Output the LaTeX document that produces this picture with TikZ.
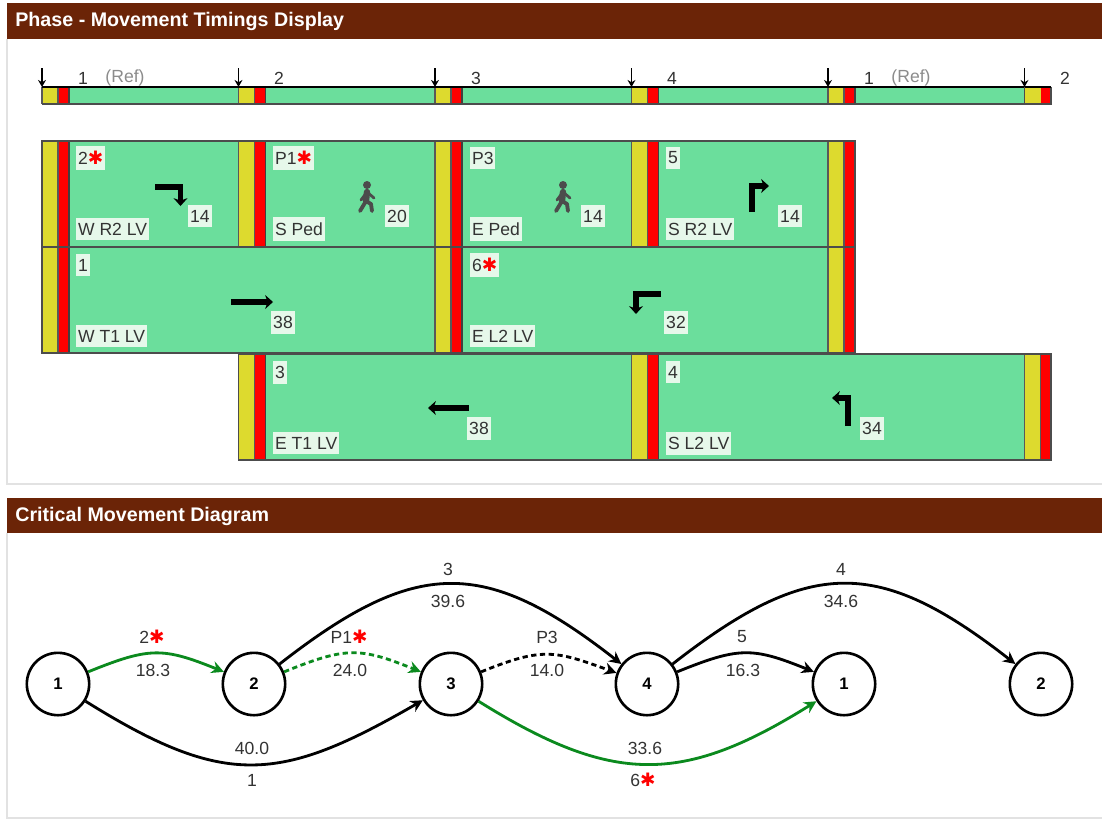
\documentclass[tikz,border=0pt]{standalone}
\usepackage{fontspec}
\usetikzlibrary{arrows.meta}
\setmainfont{Liberation Sans}
\newfontfamily\symfont{DejaVu Sans}
\definecolor{hdbrown}{HTML}{6B2407}
\definecolor{mvgreen}{HTML}{6BDE9C}
\definecolor{mvyellow}{HTML}{DDDA2E}
\definecolor{lblfill}{HTML}{E6F8EA}
\definecolor{crit}{HTML}{0B8A1E}
\definecolor{panelline}{HTML}{E2E2E2}
\newcommand{\rstar}{{\symfont\color{red}\fontsize{10.5}{10}\selectfont ✱}}
% one stretch of a bar: from x #1 to x #2, y #3 to y #4
\newcommand{\phaseseg}[4]{
\fill[mvgreen](#1,#3)rectangle(#2,#4);
\fill[mvyellow](#1,#3)rectangle(#1+16,#4);
\fill[red](#1+16,#3)rectangle(#1+27,#4);
\draw[black!65,line width=.6pt](#1+16,#3)--(#1+16,#4);
\draw[black!75,line width=.7pt](#1+27,#3)--(#1+27,#4);
\draw[black!65,line width=.6pt](#1,#3)--(#1,#4);
}
\begin{document}
\begin{tikzpicture}[>=stealth,x=.02cm,y=-.02cm,
txt/.style={inner sep=0pt,font=\fontsize{10}{11}\selectfont},
lbl/.style={txt,fill=lblfill,inner xsep=1pt,inner ysep=3pt,text=black!80},
lab/.style={txt,text=black!80},
hd/.style={inner sep=0pt,anchor=west,text=white,font=\fontsize{11.2}{13}\selectfont\bfseries},
stn/.style={draw,circle,line width=1.5pt,minimum size=35.5pt,inner sep=0pt,font=\fontsize{9.5}{11}\selectfont\bfseries},
mv/.style={-{Stealth[length=7pt,width=7pt]},line width=1.6pt},
tick/.style={-{Stealth[length=4pt,width=4.5pt]},line width=.7pt},
turn/.style={-{Stealth[length=4.5pt,width=8pt]},line width=3pt,line join=miter},
ped/.style={black!70,line width=2.2pt,line cap=round,line join=round}]
\useasboundingbox(0,0)rectangle(1102,819);
\fill[white](0,0)rectangle(1102,819);

% panels
\draw[panelline,line width=1pt](1102,484)--(7,484)--(7,39);
\draw[panelline,line width=1pt](1102,818)--(7,818)--(7,533);
\fill[hdbrown](7,3)rectangle(1102,39);
\fill[hdbrown](7,498)rectangle(1102,533);
\node[hd](hdA) at (15,21){Phase - Movement Timings Display};
\node[hd](hdB) at (15,516){Critical Movement Diagram};

% top bar
\foreach \x/\y in {42/238.5,238.5/435,435/631.5,631.5/828,828/1024.5}{\phaseseg{\x}{\y}{87}{104}}
\fill[mvyellow](1024.5,87)rectangle(1040.5,104);
\fill[red](1040.5,87)rectangle(1051,104);
\draw[black!70,line width=.8pt](42,104)--(1051,104)--(1051,87);
\draw[line width=.7pt](42,87)--(1051,87);
\draw[black!70,line width=.6pt](1024.5,87)--(1024.5,104);
\foreach \x [count=\i] in {42,238.5,435,631.5,828,1024.5}{
\coordinate(s\i) at (\x,68);
\coordinate(e\i) at (\x,87);
\draw[tick](s\i)--(e\i);
}
\node[lab](ph1) at (83,78){1};
\node[lab,text=black!45](ref1) at (125,78){(Ref)};
\node[lab](ph2) at (279,78){2};
\node[lab](ph3) at (476,78){3};
\node[lab](ph4) at (672,78){4};
\node[lab](ph5) at (869,78){1};
\node[lab,text=black!45](ref2) at (911,78){(Ref)};
\node[lab](ph6) at (1065,78){2};

% rows
\foreach \x/\y in {42/238.5,238.5/435,435/631.5,631.5/828,828/855}{\phaseseg{\x}{\y}{141}{246.5}}
\foreach \x/\y in {42/435,435/828,828/855}{\phaseseg{\x}{\y}{247.5}{353}}
\foreach \x/\y in {238.5/631.5,631.5/1024.5,1024.5/1051}{\phaseseg{\x}{\y}{354}{460}}
\draw[black!70,line width=1pt](42,141)rectangle(855,246.5);
\draw[black!70,line width=1pt](42,247.5)rectangle(855,353);
\draw[black!70,line width=1pt](238.5,354)rectangle(1051,460);

% row 1
\node[lbl,anchor=west](m2) at (76,158){2\rstar};
\node[lbl,anchor=west](m2b) at (76,229){W R2 LV};
\node[lbl](m2v) at (200,216){14};
\node[lbl,anchor=west](mP1) at (273,158){P1\rstar};
\node[lbl,anchor=west](mP1b) at (273,229){S Ped};
\node[lbl](mP1v) at (397,216){20};
\node[lbl,anchor=west](mP3) at (470,158){P3};
\node[lbl,anchor=west](mP3b) at (470,229){E Ped};
\node[lbl](mP3v) at (593,216){14};
\node[lbl,anchor=west](m5) at (666,158){5};
\node[lbl,anchor=west](m5b) at (666,229){S R2 LV};
\node[lbl](m5v) at (790,216){14};
% row 2
\node[lbl,anchor=west](m1) at (76,265){1};
\node[lbl,anchor=west](m1b) at (76,336){W T1 LV};
\node[lbl](m1v) at (283,322){38};
\node[lbl,anchor=west](m6) at (470,265){6\rstar};
\node[lbl,anchor=west](m6b) at (470,336){E L2 LV};
\node[lbl](m6v) at (676,322){32};
% row 3
\node[lbl,anchor=west](m3) at (273,372){3};
\node[lbl,anchor=west](m3b) at (273,443){E T1 LV};
\node[lbl](m3v) at (479,428){38};
\node[lbl,anchor=west](m4) at (666,372){4};
\node[lbl,anchor=west](m4b) at (666,443){S L2 LV};
\node[lbl](m4v) at (872,428){34};

% turn arrows
\draw[turn](155,187)-|(180.5,206);
\draw[turn](752,212)|-(769,186);
\draw[turn](231,302)--(273,302);
\draw[turn](661,294)-|(636,314);
\draw[turn](469,408)--(428,408);
\draw[turn](848,426)|-(832,398);

% walkers
\foreach \x in {367,563}{
\fill[black!70](\x,185)circle(4);
\draw[ped,line width=3.6pt](\x,192)--(\x-1,201);
\draw[ped,line width=1.6pt](\x,192)--(\x-6,200);
\draw[ped,line width=1.6pt](\x,192)--(\x+7,198);
\draw[ped](\x-1,201)--(\x-7,211);
\draw[ped](\x-1,201)--(\x+4,204)--(\x+5,211);
}

% stations
\node[stn](n1) at (58,684){1};
\node[stn](n2) at (254,684){2};
\node[stn](n3) at (451,684){3};
\node[stn](n4) at (647,684){4};
\node[stn](n5) at (844,684){1};
\node[stn](n6) at (1041,684){2};

\draw[mv,crit](n1) to[out=22,in=158,looseness=1.25] (n2);
\draw[mv,crit,dash pattern=on 3pt off 2pt](n2) to[out=22,in=158,looseness=1.25] (n3);
\draw[mv,dash pattern=on 3pt off 2pt](n3) to[out=22,in=160,looseness=1.25] (n4);
\draw[mv](n4) to[out=22,in=158,looseness=1.25] (n5);
\draw[mv](n2) to[out=38,in=142,looseness=1.3] (n4);
\draw[mv](n4) to[out=38,in=142,looseness=1.3] (n6);
\draw[mv](n1) to[out=-32,in=-150,looseness=1.25] (n3);
\draw[mv,crit](n3) to[out=-32,in=-148,looseness=1.2] (n5);

\node[lab](c2) at (152,637){2\rstar};
\node[lab](c2v) at (153,670){18.3};
\node[lab](cP1) at (349,637){P1\rstar};
\node[lab](cP1v) at (350,670){24.0};
\node[lab](c3) at (448,569){3};
\node[lab](c3v) at (448,601){39.6};
\node[lab](cP3) at (547,637){P3};
\node[lab](cP3v) at (547,670){14.0};
\node[lab](c4) at (841,569){4};
\node[lab](c4v) at (841,601){34.6};
\node[lab](c5) at (742,637){5};
\node[lab](c5v) at (743,670){16.3};
\node[lab](c1v) at (252,748){40.0};
\node[lab](c1) at (252,780){1};
\node[lab](c6v) at (645,748){33.6};
\node[lab](c6) at (643,780){6\rstar};
\end{tikzpicture}
\end{document}
